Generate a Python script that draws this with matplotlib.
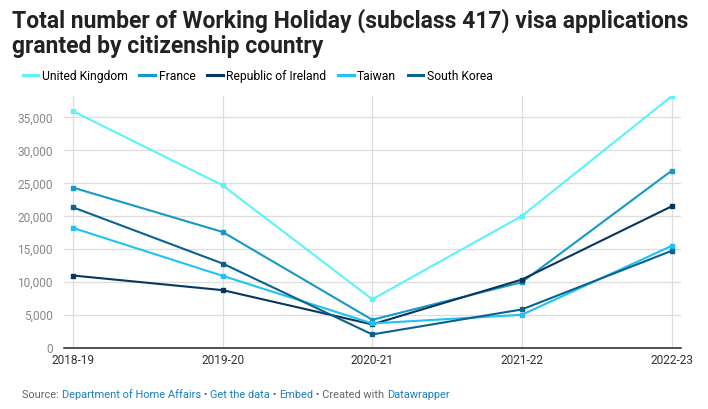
import numpy as np
import matplotlib
matplotlib.use("Agg")
from matplotlib import pyplot as plt

years = ["2018-19", "2019-20", "2020-21", "2021-22", "2022-23"]
countries = ["United Kingdom", "France", "Republic of Ireland", "Taiwan", "South Korea"]
uk = [35950, 24700, 7400, 20050, 38200]
france = [24350, 17620, 4290, 10000, 26900]
ireland = [11010, 8790, 3590, 10400, 21500]
taiwan = [18230, 10960, 3740, 5050, 15500]
korea = [21360, 12830, 2070, 5860, 14750]
colors = ["#5cf2fb", "#1599c6", "#08375e", "#1ec3f2", "#0a6290"]

plt.rcParams["font.family"] = ["Roboto", "DejaVu Sans"]

fig = plt.figure(figsize=(7.08, 4.09), dpi=100)
ax = fig.add_axes([0.0904, 0.149, 0.872, 0.617])

x = np.arange(len(years))
series = [uk, france, ireland, taiwan, korea]
for vals, name, c in zip(series, countries, colors):
    ax.plot(x, vals, color=c, lw=1.5, marker="s", ms=3.5, label=name, zorder=3)

ax.set_xlim(-0.06, 4.066)
ax.set_ylim(0, 38300)
ax.set_yticks(np.arange(0, 35001, 5000))
ax.set_yticklabels([f"{v:,}" for v in range(0, 35001, 5000)])
ax.set_xticks(x)
ax.set_xticklabels(years)
ax.grid(True, color="#dddddd", lw=0.9, zorder=0)
for s in ["top", "right", "left"]:
    ax.spines[s].set_visible(False)
ax.spines["bottom"].set_color("#222222")
ax.spines["bottom"].set_linewidth(1.1)
ax.tick_params(axis="both", length=0, labelsize=8.6)
ax.tick_params(axis="y", colors="#888888", pad=8)
ax.tick_params(axis="x", colors="#333333", pad=4.5)

fig.text(0.017, 0.978, "Total number of Working Holiday (subclass 417) visa applications\ngranted by citizenship country",
         fontsize=16.5, fontweight="bold", va="top", ha="left", color="#222222", linespacing=1.08)

fig.legend(loc="upper left", bbox_to_anchor=(0.032, 0.83), ncol=5, frameon=False,
           fontsize=8.7, handlelength=1.3, handletextpad=0.3, columnspacing=0.95,
           borderaxespad=0, borderpad=0)
for h in fig.legends[0].legend_handles:
    h.set_marker("")
    h.set_linewidth(2.2)

# footer
pieces = [("Source: ", "#666666"), ("Department of Home Affairs", "#1a7fc1"), (" \u2022 ", "#666666"),
          ("Get the data", "#1a7fc1"), (" \u2022 ", "#666666"), ("Embed", "#1a7fc1"),
          (" \u2022 Created with ", "#666666"), ("Datawrapper", "#1a7fc1")]
fig.canvas.draw()
r = fig.canvas.get_renderer()
xp = 22
for txt, c in pieces:
    t = fig.text(xp / 708, 1 - 395 / 409, txt, fontsize=7.9, color=c, va="center", ha="left")
    xp += t.get_window_extent(renderer=r).width

fig.savefig("out.png", dpi=100)
